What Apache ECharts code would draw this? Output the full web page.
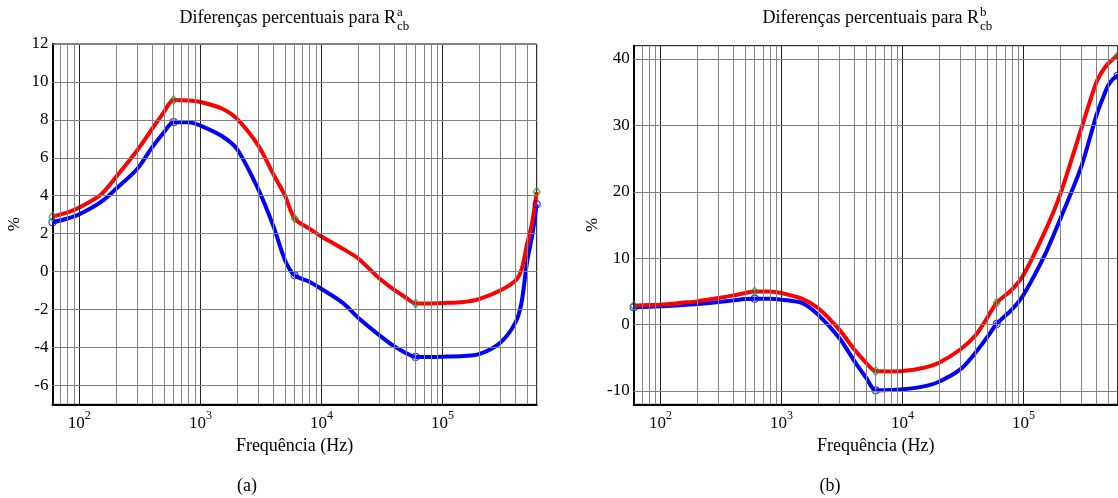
<!DOCTYPE html>
<html>
<head>
<meta charset="utf-8">
<script src="https://cdn.jsdelivr.net/npm/echarts@6/dist/echarts.min.js"></script>
<style>html,body{margin:0;padding:0;background:#fff;}#c{width:1118px;height:498px;}</style>
</head>
<body>
<div id="c"></div>
<script>
// ---------- data ----------
const freqs = [60, 80, 100, 150, 200, 300, 400, 500, 600, 800, 1000, 1500, 2000, 3000, 4000, 5000, 6000, 8000, 10000, 15000, 20000, 30000, 40000, 50000, 60000, 80000, 100000, 150000, 200000, 300000, 400000, 450000, 500000, 550000, 600000];

const redA  = [2.9, 3.12, 3.38, 4.05, 4.97, 6.38, 7.53, 8.41, 9.05, 9.02, 8.94, 8.6, 8.06, 6.65, 5.14, 4.0, 2.8, 2.25, 1.85, 1.2, 0.7, -0.35, -0.97, -1.38, -1.68, -1.68, -1.66, -1.6, -1.45, -1.0, -0.48, 0.12, 1.45, 2.6, 4.2];
const blueA = [2.6, 2.8, 3.02, 3.66, 4.35, 5.41, 6.56, 7.35, 7.88, 7.88, 7.7, 7.15, 6.47, 4.35, 2.41, 0.6, -0.2, -0.55, -0.92, -1.65, -2.42, -3.35, -3.95, -4.3, -4.5, -4.5, -4.49, -4.45, -4.36, -3.75, -2.69, -1.62, 0.53, 1.88, 3.55];

const redB  = [2.85, 2.95, 3.0, 3.3, 3.5, 4.0, 4.4, 4.75, 5.0, 5.0, 4.75, 3.85, 2.5, -0.75, -3.75, -5.75, -7.0, -7.05, -7.0, -6.5, -5.75, -3.75, -1.65, 1.0, 3.3, 5.25, 7.5, 14.0, 19.5, 29.5, 36.5, 38.2, 39.3, 40.0, 40.5];
const blueB = [2.6, 2.7, 2.75, 2.95, 3.1, 3.4, 3.65, 3.85, 3.9, 3.9, 3.75, 3.2, 1.5, -2.0, -5.5, -8.0, -9.9, -9.85, -9.75, -9.3, -8.6, -6.75, -4.25, -1.9, 0.1, 2.25, 4.5, 10.5, 15.8, 23.8, 31.5, 34.0, 36.0, 37.0, 37.5];

const markerFreqs = [60, 600, 6000, 60000, 600000];
const redMarkA  = [2.9, 9.05, 2.8, -1.68, 4.2];
const blueMarkA = [2.6, 7.88, -0.2, -4.5, 3.55];
const redMarkB  = [2.85, 5.0, -7.0, 3.3, 40.5];
const blueMarkB = [2.6, 3.9, -9.9, 0.1, 37.5];

const gridFreqs = [70, 80, 90, 100, 200, 300, 400, 500, 600, 700, 800, 900, 1000, 2000, 3000, 4000, 5000, 6000, 7000, 8000, 9000, 10000, 20000, 30000, 40000, 50000, 60000, 70000, 80000, 90000, 100000, 200000, 300000, 400000, 500000];
const decadeFreqs = [100, 1000, 10000, 100000];
const yTicksA = [-6, -4, -2, 0, 2, 4, 6, 8, 10, 12];
const yTicksB = [-10, 0, 10, 20, 30, 40];

const titleMain = 'Diferenças percentuais para R';
const titleSupA = 'a', titleSupB = 'b', titleSub = 'cb';
const xName = 'Frequência (Hz)';
const yName = '%';
const captionA = '(a)', captionB = '(b)';

// ---------- chart ----------
const FONT = '"Liberation Serif", "Times New Roman", serif';
const chart = echarts.init(document.getElementById('c'), null, {renderer: 'canvas'});

function pairs(xs, ys) { return xs.map((x, i) => [x, ys[i]]); }

function xAxisCfg(gi) {
  return {
    type: 'log', logBase: 10, gridIndex: gi, min: 60, max: 600000,
    name: xName, nameLocation: 'middle', nameGap: 29,
    nameTextStyle: {fontFamily: FONT, fontSize: 18, color: '#000'},
    axisLine: {show: true, onZero: false, lineStyle: {color: '#000', width: 2}},
    axisTick: {show: false},
    splitLine: {show: false},
    minorTick: {show: false}, minorSplitLine: {show: false},
    axisLabel: {
      margin: 6, color: '#000', fontFamily: FONT,
      formatter: function (v) {
        const e = Math.round(Math.log10(v));
        if (Math.abs(Math.pow(10, e) - v) / v > 1e-6) return '';
        return '{b|10}{s|' + e + '}';
      },
      rich: {
        b: {fontFamily: FONT, fontSize: 17, color: '#000', lineHeight: 22, verticalAlign: 'bottom'},
        s: {fontFamily: FONT, fontSize: 12, color: '#000', lineHeight: 12, verticalAlign: 'top'}
      }
    }
  };
}

function yAxisCfg(gi, min, max, interval, step, gap) {
  return {
    type: 'value', gridIndex: gi, min: min, max: max, interval: interval,
    name: yName, nameLocation: 'middle', nameGap: gap, nameRotate: 90,
    nameTextStyle: {fontFamily: FONT, fontSize: 17, color: '#000'},
    axisLine: {show: true, onZero: false, lineStyle: {color: '#000', width: 2}},
    axisTick: {show: false},
    splitLine: {show: false},
    axisLabel: {
      margin: 4, color: '#000', fontFamily: FONT, fontSize: 17,
      formatter: function (v) { return (Math.round(v) % step === 0) ? String(Math.round(v)) : ''; }
    }
  };
}

function gridLinesSeries(gi, yTicks) {
  const d = [];
  gridFreqs.forEach(f => {
    const major = decadeFreqs.indexOf(f) >= 0;
    d.push({xAxis: f, lineStyle: {color: major ? '#222' : '#858585', width: 1, type: 'solid'}});
  });
  yTicks.forEach(v => d.push({yAxis: v, lineStyle: {color: '#808080', width: 1, type: 'solid'}}));
  return {
    type: 'line', xAxisIndex: gi, yAxisIndex: gi, data: [], z: 1, silent: true, animation: false,
    markLine: {silent: true, animation: false, symbol: ['none', 'none'], label: {show: false}, emphasis: {disabled: true}, data: d}
  };
}

function lineSeries(gi, ys, color) {
  return {type: 'line', xAxisIndex: gi, yAxisIndex: gi, data: pairs(freqs, ys), smooth: 0.3,
    symbol: 'none', lineStyle: {color: color, width: 4}, z: 3, silent: true, animation: false};
}

function markSeries(gi, ys, kind) {
  const circle = kind === 'circle';
  return {type: 'scatter', xAxisIndex: gi, yAxisIndex: gi, data: pairs(markerFreqs, ys), z: 4, silent: true, animation: false,
    symbol: circle ? 'circle' : 'diamond', symbolSize: circle ? 7 : [7, 9],
    itemStyle: {color: 'rgba(0,0,0,0)', borderColor: circle ? '#0000ff' : '#1f9a1f', borderWidth: 1.2}};
}

function titleGraphics(rightX, sup) {
  return [
    {type: 'text', x: rightX, y: 18, style: {text: titleMain, font: '18px ' + FONT, fill: '#000', align: 'right', verticalAlign: 'middle'}},
    {type: 'text', x: rightX + 1, y: 12.5, style: {text: sup, font: '13px ' + FONT, fill: '#000', align: 'left', verticalAlign: 'middle'}},
    {type: 'text', x: rightX + 1, y: 27, style: {text: titleSub, font: '13px ' + FONT, fill: '#000', align: 'left', verticalAlign: 'middle'}}
  ];
}

const option = {
  backgroundColor: '#fff',
  animation: false,
  grid: [
    {left: 52.5, top: 44, right: 581.3, bottom: 93.7, show: true, borderColor: '#000', borderWidth: 1, outerBoundsMode: 'none'},
    {left: 633.7, top: 45.7, right: 0.3, bottom: 93.7, show: true, borderColor: '#000', borderWidth: 1, outerBoundsMode: 'none'}
  ],
  xAxis: [xAxisCfg(0), xAxisCfg(1)],
  yAxis: [yAxisCfg(0, -7, 12, 1, 2, 29), yAxisCfg(1, -12, 42, 2, 10, 33)],
  series: [
    gridLinesSeries(0, yTicksA),
    gridLinesSeries(1, yTicksB),
    lineSeries(0, blueA, '#0000ff'),
    lineSeries(0, redA, '#ff0000'),
    lineSeries(1, blueB, '#0000ff'),
    lineSeries(1, redB, '#ff0000'),
    markSeries(0, blueMarkA, 'circle'),
    markSeries(0, redMarkA, 'diamond'),
    markSeries(1, blueMarkB, 'circle'),
    markSeries(1, redMarkB, 'diamond')
  ],
  graphic: [].concat(
    titleGraphics(396, titleSupA),
    titleGraphics(979, titleSupB),
    [
      {type: 'text', x: 247, y: 486, style: {text: captionA, font: '18px ' + FONT, fill: '#000', align: 'center', verticalAlign: 'middle'}},
      {type: 'text', x: 830, y: 486, style: {text: captionB, font: '18px ' + FONT, fill: '#000', align: 'center', verticalAlign: 'middle'}}
    ]
  )
};
chart.setOption(option);
</script>
</body>
</html>
